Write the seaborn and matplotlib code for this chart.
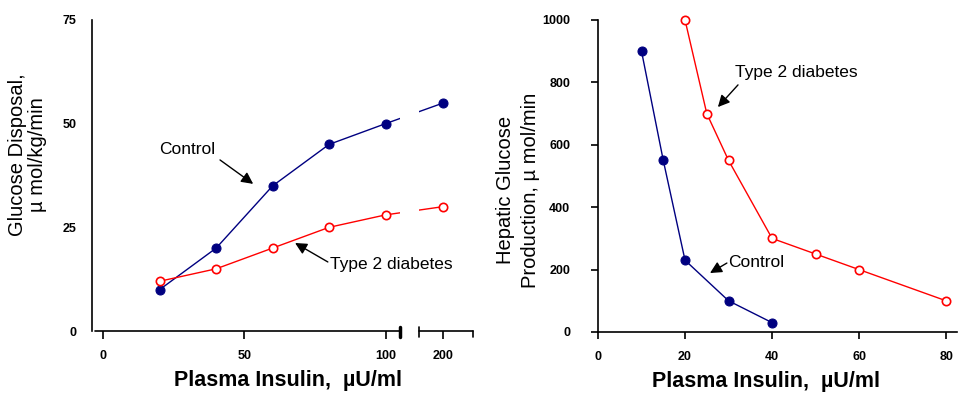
import numpy as np
import matplotlib
matplotlib.use("Agg")
import matplotlib.pyplot as plt
import seaborn as sns

# ---- data ----
disp_insulin = [20, 40, 60, 80, 100, 200]
disp_control = [10, 20, 35, 45, 50, 55]
disp_diabetes = [12, 15, 20, 25, 28, 30]
disp_xticks = [0, 50, 100, 200]
disp_yticks = [0, 25, 50, 75]

hgp_ctrl_insulin = [10, 15, 20, 30, 40]
hgp_control = [900, 550, 230, 100, 30]
hgp_diab_insulin = [20, 25, 30, 40, 50, 60, 80]
hgp_diabetes = [1000, 700, 550, 300, 250, 200, 100]
hgp_xticks = [0, 20, 40, 60, 80]
hgp_yticks = [0, 200, 400, 600, 800, 1000]

NAVY = "#000080"
RED = "#FF0000"

sns.set_style("white")
plt.rcParams["font.family"] = ["Liberation Sans", "DejaVu Sans"]
for k in ["text.color", "axes.labelcolor", "xtick.color", "ytick.color",
          "axes.edgecolor"]:
    plt.rcParams[k] = "black"

fig = plt.figure(figsize=(9.59, 3.94), dpi=100)
axL = fig.add_axes([92 / 959, 1 - 331 / 394, 381 / 959, 311 / 394])
axR = fig.add_axes([598 / 959, 1 - 332 / 394, 359 / 959, 312 / 394])

# ---------- left panel (broken x axis) ----------
K = 0.205


def fwd(x):
    x = np.asarray(x, dtype=float)
    return np.where(x <= 100, x, 100 + (x - 100) * K)


def inv(y):
    y = np.asarray(y, dtype=float)
    return np.where(y <= 100, y, 100 + (y - 100) / K)


axL.set_xscale("function", functions=(fwd, inv))

sns.lineplot(x=disp_insulin, y=disp_control, ax=axL, color=NAVY, lw=1,
             marker="o", markersize=6.5, markerfacecolor=NAVY,
             markeredgecolor=NAVY, clip_on=False)
sns.lineplot(x=disp_insulin, y=disp_diabetes, ax=axL, color=RED, lw=1,
             marker="o", markersize=6, markerfacecolor="white",
             markeredgecolor=RED, markeredgewidth=1.2, clip_on=False)

axL.set_xlim(float(inv(-4)), float(inv(131)))
axL.set_ylim(0, 75)
axL.set_xticks(disp_xticks)
axL.set_xticklabels([str(v) for v in disp_xticks])
axL.set_yticks(disp_yticks)
axL.set_yticklabels([str(v) for v in disp_yticks])
for s in ["top", "right", "bottom"]:
    axL.spines[s].set_visible(False)
axL.spines["left"].set_linewidth(1.2)
axL.tick_params(axis="y", direction="in", length=5, width=1.2, pad=11,
                labelsize=9)
axL.tick_params(axis="x", direction="out", length=6, width=1.2, pad=8,
                labelsize=9, bottom=True)
for lab in axL.get_xticklabels() + axL.get_yticklabels():
    lab.set_fontweight("bold")

# gap in the data lines at the axis break
b1, b2, bend = float(inv(105.3)), float(inv(112)), float(inv(131))
axL.axvspan(b1, b2, ymin=0.03, ymax=1, color="white", zorder=3, lw=0)
tr = axL.get_xaxis_transform()
px = 1 / 311.0
axL.plot([float(inv(-2.9)), b1], [0, 0], color="black", lw=1.2,
         transform=tr, clip_on=False, zorder=4)
axL.plot([b2, bend], [0, 0], color="black", lw=1.2, transform=tr,
         clip_on=False, zorder=4)
axL.plot([b1, b1], [4 * px, -6 * px], color="black", lw=2.5, transform=tr,
         clip_on=False, zorder=4)
axL.plot([b2, b2], [4 * px, -6 * px], color="black", lw=1.2, transform=tr,
         clip_on=False, zorder=4)
axL.plot([bend, bend], [0, -6 * px], color="black", lw=1.2, transform=tr,
         clip_on=False, zorder=4)

axL.set_xlabel("Plasma Insulin,  \u00b5U/ml", fontsize=15.5,
               fontweight="bold")
axL.xaxis.set_label_coords(0.514, -0.125)
axL.set_ylabel("Glucose Disposal,\n\u00b5 mol/kg/min", fontsize=14.5,
               linespacing=1.05)
axL.yaxis.set_label_coords(-0.169, 0.566)
axL.yaxis.label.set_verticalalignment("center")

arrow = dict(arrowstyle="-|>,head_length=0.7,head_width=0.35",
             color="black", lw=1, shrinkA=0, shrinkB=0)
axL.text(0.249, 0.582, "Control", transform=axL.transAxes, fontsize=12.5,
         ha="center", va="center")
axL.annotate("", xy=(0.423, 0.473), xytext=(0.336, 0.550),
             xycoords="axes fraction", textcoords="axes fraction",
             arrowprops=arrow)
axL.text(0.625, 0.215, "Type 2 diabetes", transform=axL.transAxes,
         fontsize=12.5, ha="left", va="center")
axL.annotate("", xy=(0.533, 0.283), xytext=(0.619, 0.222),
             xycoords="axes fraction", textcoords="axes fraction",
             arrowprops=arrow)

# ---------- right panel ----------
sns.lineplot(x=hgp_ctrl_insulin, y=hgp_control, ax=axR, color=NAVY, lw=1,
             marker="o", markersize=6.5, markerfacecolor=NAVY,
             markeredgecolor=NAVY, clip_on=False)
sns.lineplot(x=hgp_diab_insulin, y=hgp_diabetes, ax=axR, color=RED, lw=1,
             marker="o", markersize=6, markerfacecolor="white",
             markeredgecolor=RED, markeredgewidth=1.2, clip_on=False)

axR.set_xlim(0, 82.5)
axR.set_ylim(0, 1000)
axR.set_xticks(hgp_xticks)
axR.set_xticklabels([str(v) for v in hgp_xticks])
axR.set_yticks(hgp_yticks)
axR.set_yticklabels([str(v) for v in hgp_yticks])
for s in ["top", "right"]:
    axR.spines[s].set_visible(False)
for s in ["left", "bottom"]:
    axR.spines[s].set_linewidth(1.2)
axR.tick_params(axis="y", direction="out", length=5, width=1.2, pad=15,
                labelsize=9, left=True)
axR.tick_params(axis="x", direction="out", length=5, width=1.2, pad=9,
                labelsize=9, bottom=True)
for lab in axR.get_xticklabels() + axR.get_yticklabels():
    lab.set_fontweight("bold")

axR.set_xlabel("Plasma Insulin,  \u00b5U/ml", fontsize=15.5,
               fontweight="bold")
axR.xaxis.set_label_coords(0.468, -0.125)
axR.set_ylabel("Hepatic Glucose\nProduction, \u00b5 mol/min", fontsize=14.5,
               linespacing=1.45)
axR.yaxis.set_label_coords(-0.223, 0.455)
axR.yaxis.label.set_verticalalignment("center")

axR.text(0.382, 0.833, "Type 2 diabetes", transform=axR.transAxes,
         fontsize=12.5, ha="left", va="center")
axR.annotate("", xy=(0.334, 0.721), xytext=(0.390, 0.792),
             xycoords="axes fraction", textcoords="axes fraction",
             arrowprops=arrow)
axR.text(0.362, 0.224, "Control", transform=axR.transAxes, fontsize=12.5,
         ha="left", va="center")
axR.annotate("", xy=(0.312, 0.189), xytext=(0.359, 0.221),
             xycoords="axes fraction", textcoords="axes fraction",
             arrowprops=arrow)

fig.savefig("out.png", dpi=100)
